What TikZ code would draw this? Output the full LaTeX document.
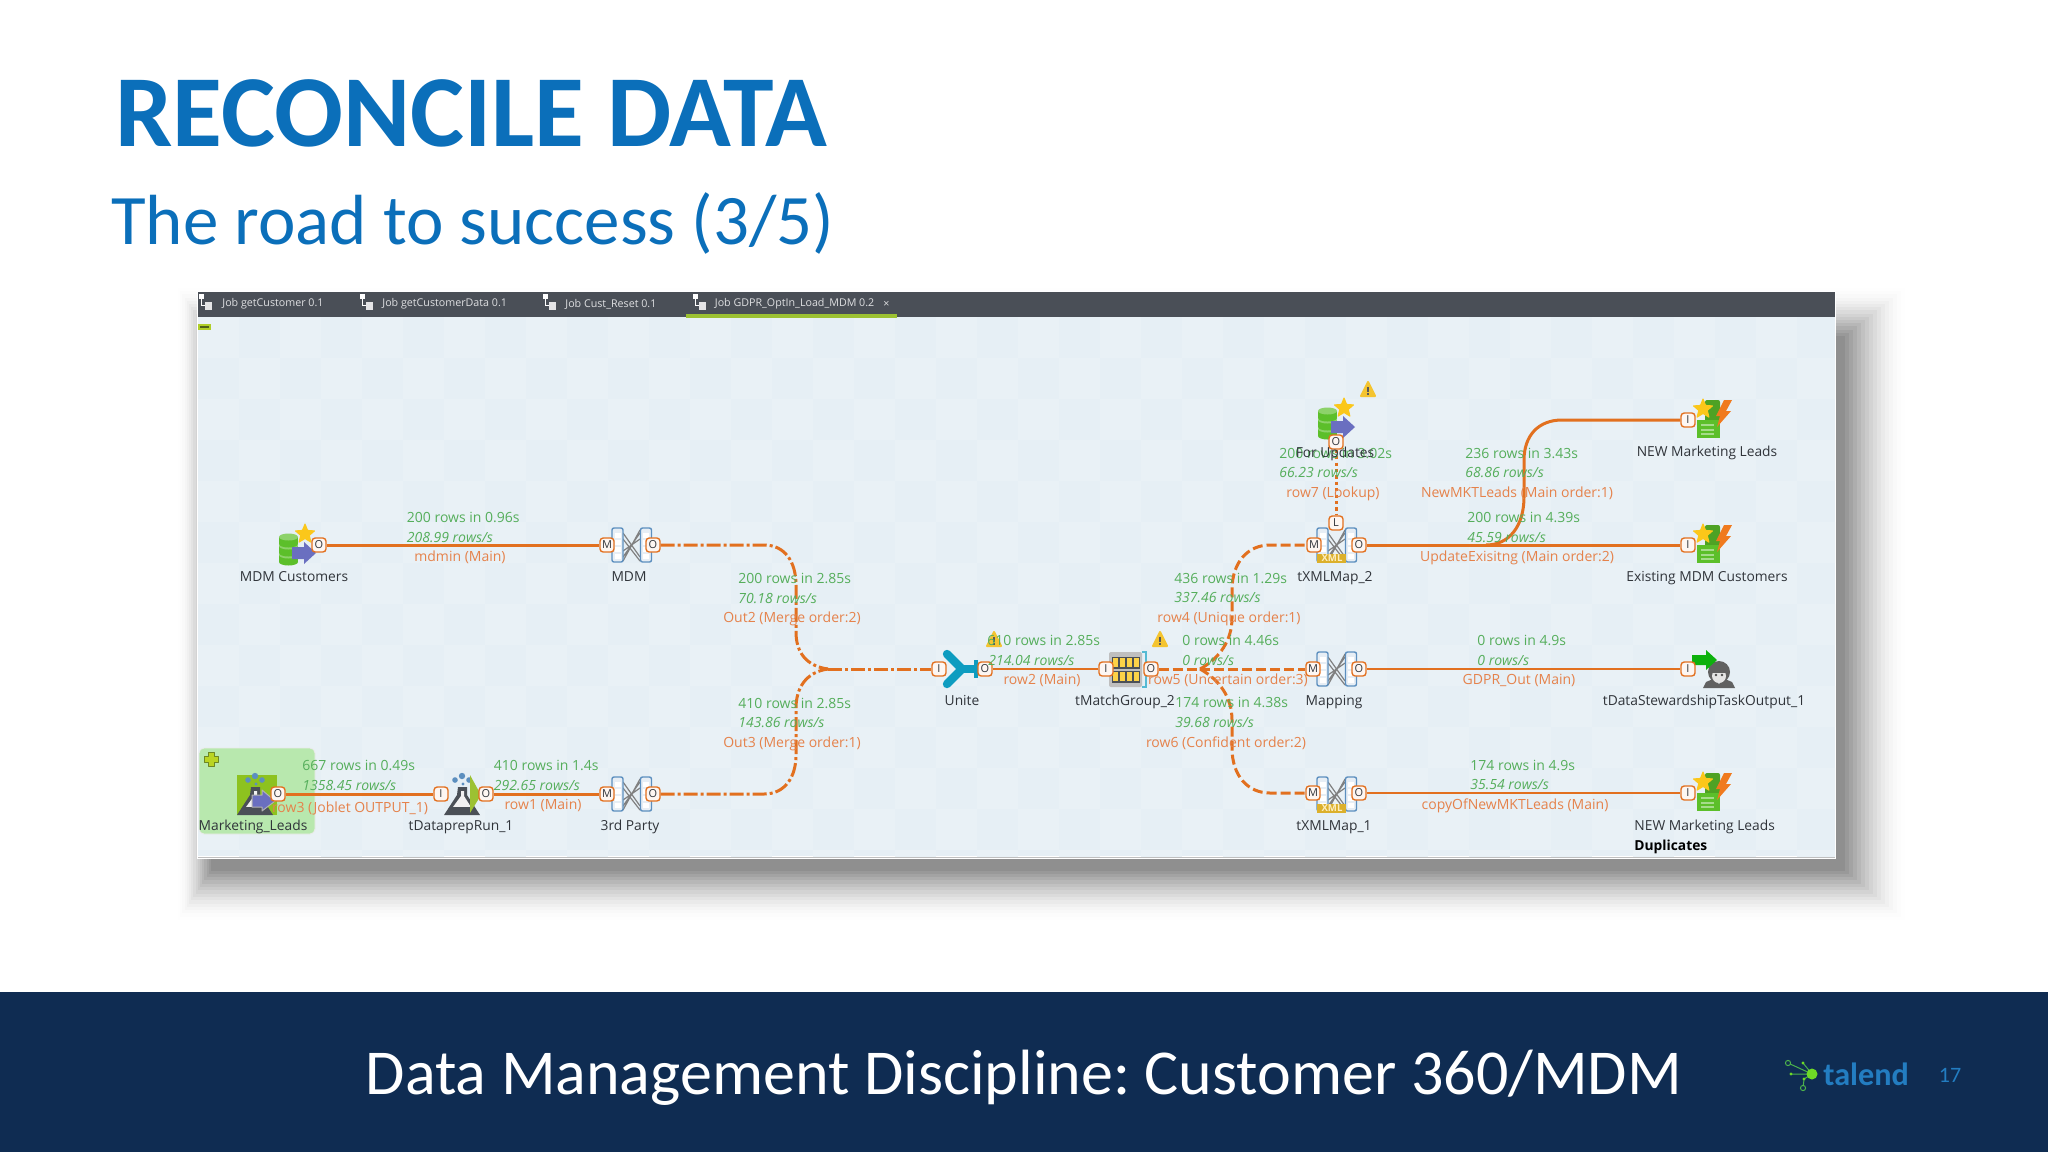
\documentclass[tikz,border=0pt]{standalone}
\usepackage{fontspec}
\setmainfont{Open Sans}
\newfontfamily\slidefont{Carlito}
\definecolor{titleblue}{HTML}{0B6FBA}
\definecolor{navy}{HTML}{0F2C52}
\definecolor{tabbar}{HTML}{4A4F57}
\definecolor{panelA}{HTML}{E6EFF5}
\definecolor{panelB}{HTML}{E9F1F6}
\definecolor{flowc}{HTML}{E2701F}
\definecolor{rowgreen}{HTML}{55AE5B}
\definecolor{roworange}{HTML}{E5824B}
\definecolor{labeldark}{HTML}{30343A}
\definecolor{dbgreen}{HTML}{5CBF2A}
\definecolor{arrowpurple}{HTML}{6A6FC0}
\definecolor{stary}{HTML}{FBC71A}
\definecolor{warny}{HTML}{F4C430}
\definecolor{mapblue}{HTML}{5C8FBF}
\definecolor{boltorange}{HTML}{F07A1E}
\definecolor{teal}{HTML}{0E9CC0}
\definecolor{flaskgrey}{HTML}{4B5057}
\definecolor{lime}{HTML}{9CC132}
\definecolor{limesq}{HTML}{8DC21F}
\definecolor{joblet}{HTML}{B8E8AE}
\tikzset{
  flow/.style={draw=flowc,line width=1.5pt},
  thinflow/.style={draw=flowc,line width=1.3pt},
  dashdotflow/.style={draw=flowc,line width=1.5pt,dash pattern=on 7pt off 1.5pt on 1.5pt off 1.5pt},
  dashflow/.style={draw=flowc,line width=1.5pt,dash pattern=on 5pt off 2pt},
  dotflow/.style={draw=flowc,line width=1.5pt,dash pattern=on 1.6pt off 1.6pt},
  port/.style={draw=flowc,line width=.7pt,fill=white!94!flowc,rounded corners=1.6pt,minimum width=7pt,minimum height=7pt,inner sep=0pt,text=labeldark,font=\fontsize{5.5}{6}\selectfont},
  rowbase/.style={inner sep=0pt,text height=5.4pt,text depth=1.4pt,yshift=-.5pt,font=\fontsize{7}{8}\selectfont},
  stats/.style={rowbase,anchor=west,text=rowgreen},
  rate/.style={rowbase,anchor=west,text=rowgreen,font=\fontsize{7}{8}\selectfont\itshape},
  rowname/.style={rowbase,text=roworange},
  complabel/.style={rowbase,yshift=.5pt,text=labeldark,font=\fontsize{6.9}{8}\selectfont},
  tabtext/.style={inner sep=0pt,anchor=west,text=white!82!tabbar,font=\fontsize{5.35}{6}\selectfont},
  pics/starico/.style={code={
    \fill[stary,draw=stary,line width=.5pt,line join=round] (0,-10)--(2.6,-3.6)--(9.5,-3.1)--(4.3,1.4)--(5.9,8.1)--(0,4.5)--(-5.9,8.1)--(-4.3,1.4)--(-9.5,-3.1)--(-2.6,-3.6)--cycle;
  }},
  pics/warnico/.style={code={
    \fill[warny,draw=warny,line width=1pt,line join=round] (0,-7)--(7,7)--(-7,7)--cycle;
    \fill[black!65] (-1,-2.5) rectangle (1,3);
    \fill[black!65] (-1,4.2) rectangle (1,6);
  }},
  pics/dbico/.style={code={
    \foreach \yy in {10,1,-8}{
      \fill[dbgreen] (-19,\yy) rectangle (0,\yy+7);
      \fill[dbgreen] (-9.5,\yy+7) ellipse (9.5 and 3.5);
      \fill[dbgreen!70!white] (-9.5,\yy) ellipse (9.5 and 3.5);
    }
    \pic at (7,-11) {starico};
    \fill[arrowpurple,line join=round] (-6,2)--(6,2)--(6,-3)--(18,8)--(6,19)--(6,14)--(-6,14)--cycle;
  }},
  pics/mapico/.style={code={
    \draw[black!50,line width=.6pt] (-8,-12)--(9,12) (-8,12)--(9,-12) (-8,-6)--(9,16) (-8,6)--(9,-6) (-8,16)--(9,-15);
    \foreach \cx in {-13.5,15}{
      \filldraw[draw=mapblue,fill=white!85!mapblue,line width=.7pt,rounded corners=1pt] (\cx-5.5,-17) rectangle (\cx+5.5,17);
      \foreach \cy in {-12,-5,2,9}{\fill[white] (\cx-3,\cy) rectangle (\cx+3,\cy+5);}
    }
  }},
  pics/xmlbadge/.style={code={
    \fill[warny!90!black] (-19,9) rectangle (10,18);
    \node[inner sep=0pt,text=white!70!warny,font=\fontsize{4.8}{5}\selectfont\bfseries] (xmltext) at (-4,13.5) {XML};
  }},
  pics/outico/.style={code={
    \fill[dbgreen!85!black,rounded corners=1pt] (-7,-20) rectangle (8,4);
    \fill[dbgreen] (-15,0) rectangle (8,18);
    \foreach \ly in {4,9,13}{\fill[white!45!dbgreen] (-11,\ly) rectangle (2,\ly+1.6);}
    \pic at (-9,-11) {starico};
    \fill[boltorange,line join=round] (12,-20)--(20,-20)--(14,-9)--(19,-9)--(5,7)--(8,-4)--(4,-4)--cycle;
  }},
  pics/flaskico/.style={code={
    \fill[mapblue] (-7,-15) circle (2.8) (0,-19) circle (3.2) (7,-15) circle (2.8) (1,-11) circle (1.6);
    \fill[flaskgrey,line join=round] (-4,-8)--(5,-8)--(5,0)--(18,20)--(-18,20)--(-5,0)--cycle;
    \fill[white!92!flaskgrey] (-1,-4)--(2,-4)--(2,1)--(9,12)--(-9,12)--(-1,1)--cycle;
    \fill[flaskgrey] (-9,12)--(9,12)--(11,16)--(-11,16)--cycle;
  }},
  pics/uniteico/.style={code={
    \draw[teal,line width=4.2pt,line cap=round] (-15,-15)--(0,0) (-15,15)--(0,0);
    \draw[teal,line width=4.2pt] (0,0)--(13,0);
    \fill[teal] (12,-9) rectangle (16,9);
  }},
  pics/matchico/.style={code={
    \fill[black!25,rounded corners=1pt] (-19,-17) rectangle (14,18);
    \foreach \ry in {-11,3}{
      \fill[flaskgrey] (-16,\ry-1) rectangle (12,\ry+11);
      \foreach \rx in {-15,-8,-1,6}{\fill[stary!80!white] (\rx,\ry) rectangle (\rx+5,\ry+9);}
    }
    \draw[teal!70!white,line width=1.4pt] (14,-17)--(18,-17)--(18,18)--(14,18);
  }},
  pics/stewardico/.style={code={
    \fill[black!62] (3,2) circle (11);
    \fill[black!62,line join=round] (-13,18)--(-10,12)--(-3,9)--(3,14)--(9,9)--(16,12)--(19,18)--cycle;
    \fill[white!90!black] (3,6) ellipse (7 and 7);
    \fill[black!62] (-5,-1) rectangle (11,3);
    \fill[black!70] (0,5) circle (1.4) (6,5) circle (1.4);
    \fill[green!68!black!95!white,line join=round] (-24,-15)--(-10,-15)--(-10,-20)--(1,-10)--(-10,0)--(-10,-5)--(-24,-5)--cycle;
  }}
}
\begin{document}
\frenchspacing
\begin{tikzpicture}[x=0.5pt,y=-0.5pt]
\useasboundingbox (0,0) rectangle (2048,1152);
\fill[white] (0,0) rectangle (2048,1152);
% blurred shadow: layers get denser towards the panel
\foreach \si in {0,...,15}{
  \pgfmathsetmacro{\sop}{.004+.004*\si}
  \fill[black,opacity=\sop] ({178+2.2*\si},{288+3.2*\si}) rectangle ({1905-4*\si},{920-3.3*\si});
}
% panel
\fill[white] (197,291) rectangle (1836,859);
\fill[panelA] (198,317) rectangle (1835,856);
\begin{scope}
\clip (198,317) rectangle (1835,856);
\foreach \ci in {0,...,39}{
  \foreach \cj in {0,...,13}{
    \pgfmathparse{int(mod(\ci+\cj,2))}
    \ifnum\pgfmathresult=0
      \fill[panelB] ({198+41*\ci},{317+41*\cj}) rectangle ({198+41*\ci+41},{317+41*\cj+41});
    \fi
  }
}
\end{scope}
\draw[black!25,line width=.5pt] (198,857) -- (1835,857);
% tab bar
\fill[tabbar] (198,292) rectangle (1835,317);
\fill[lime] (686,314) rectangle (897,317.5);
\foreach \tx in {203,364,547,697}{
  \fill[white] (\tx-4,294) rectangle (\tx+1,299);
  \draw[white,line width=.5pt] (\tx-2,299) -- (\tx-2,305) -- (\tx+2,305);
  \fill[white!85!tabbar] (\tx+2,302) rectangle (\tx+9,310);
}
\node[tabtext] (tabA) at (222,304) {Job getCustomer 0.1};
\node[tabtext] (tabB) at (382,304) {Job getCustomerData 0.1};
\node[tabtext] (tabC) at (565,304) {Job Cust\_Reset 0.1};
\node[tabtext] (tabD) at (714.5,304) {Job GDPR\_OptIn\_Load\_MDM 0.2};
\node[tabtext] (tabX) at (883,304) {×};
% small marker
\fill[lime!80!yellow] (198,324) rectangle (211,330);
\fill[black!50!lime] (200,326) rectangle (209,328);
% joblet box
\filldraw[draw=black!8,fill=joblet,rounded corners=2.5pt,line width=.4pt] (199,748) rectangle (315,834);
\filldraw[draw=lime!70!black,fill=lime!70!yellow,line width=.5pt,line join=round] (208,752) -- (214,752) -- (214,756) -- (218,756) -- (218,762) -- (214,762) -- (214,766) -- (208,766) -- (208,762) -- (204,762) -- (204,756) -- (208,756) -- cycle;
% icons
\pic at (298,545) {dbico};
\pic at (1337,419) {dbico};
\pic at (631,545) {mapico};
\pic at (631,794) {mapico};
\pic at (1336,669) {mapico};
\pic at (1336,794) {mapico};
\pic at (1336,795) {xmlbadge};
\pic at (1336,545) {mapico};
\pic at (1336,545) {xmlbadge};
\pic at (1712,420) {outico};
\pic at (1712,545) {outico};
\pic at (1712,793) {outico};
\pic at (1716,670) {stewardico};
\pic at (962,669) {uniteico};
\pic at (1128,669) {matchico};
% tDataprepRun icon
\pic at (462,795) {flaskico};
\fill[lime] (470,775) -- (481,795) -- (470,813) -- cycle;
% Marketing_Leads icon
\fill[limesq] (237,775) rectangle (277,815);
\pic at (255,795) {flaskico};
\filldraw[draw=black!30,fill=arrowpurple,line width=.5pt,line join=round] (252,795)--(262,795)--(262,790)--(275,801)--(262,811)--(262,807)--(252,807)--cycle;
% ports
\node[port] (mdmcO) at (319,545) {O};
\node[port] (mdmM) at (607,545) {M};
\node[port] (mdmO) at (653,545) {O};
\node[port] (mktO) at (278,794) {O};
\node[port] (prepI) at (441,794) {I};
\node[port] (prepO) at (486,794) {O};
\node[port] (thirdM) at (607,794) {M};
\node[port] (thirdO) at (653,794) {O};
\node[port] (uniteI) at (939,669) {I};
\node[port] (uniteO) at (985,669) {O};
\node[port] (matchI) at (1106,669) {I};
\node[port] (matchO) at (1151,669) {O};
\node[port] (mapM) at (1313,669) {M};
\node[port] (mapO) at (1359,669) {O};
\node[port] (xoneM) at (1313,793) {M};
\node[port] (xoneO) at (1359,793) {O};
\node[port] (xtwoM) at (1314,545) {M};
\node[port] (xtwoO) at (1359,545) {O};
\node[port] (xtwoL) at (1336,523) {L};
\node[port] (updO) at (1336,442) {O};
\node[port] (newI) at (1688,420) {I};
\node[port] (existI) at (1688,545) {I};
\node[port] (stewI) at (1688,669) {I};
\node[port] (dupI) at (1688,793) {I};
\coordinate (mergeJ) at (828,669);
\coordinate (splitJ) at (1200,669);
\coordinate (forkJ) at (1486,545);
% connectors
\draw[flow] (mdmcO) -- (mdmM);
\draw[flow] (mktO) -- (prepI);
\draw[flow] (prepO) -- (thirdM);
\draw[dashdotflow] (mdmO) -- (764,545) .. controls (785,545) and (796,562) .. (796,585) -- (796,632) .. controls (796,652) and (806,666) .. (mergeJ);
\draw[dashdotflow] (thirdO) -- (764,794) .. controls (785,794) and (796,777) .. (796,755) -- (796,708) .. controls (796,688) and (806,672) .. (mergeJ);
\draw[dashdotflow] (mergeJ) -- (uniteI);
\draw[thinflow] (uniteO) -- (matchI);
\draw[dashflow] (matchO) -- (splitJ);
\draw[dashflow] (splitJ) -- (mapM);
\draw[dashflow] (splitJ) .. controls (1220,658) and (1232,640) .. (1232,618) -- (1232,590) .. controls (1232,562) and (1248,545) .. (1270,545) -- (xtwoM);
\draw[dashflow] (splitJ) .. controls (1220,680) and (1232,698) .. (1232,720) -- (1232,748) .. controls (1232,776) and (1248,793) .. (1270,793) -- (xoneM);
\draw[dotflow] (updO) -- (xtwoL);
\draw[flow] (xtwoO) -- (existI);
\draw[flow] (forkJ) .. controls (1510,545) and (1524,525) .. (1524,497) -- (1524,460) .. controls (1524,436) and (1538,420) .. (1562,420) -- (newI);
\draw[thinflow] (mapO) -- (stewI);
\draw[thinflow] (xoneO) -- (dupI);
% warnings
\pic at (1368,389) {warnico};
\pic at (1160,639) {warnico};
\pic at (994,639) {warnico};
% component labels
\node[complabel] (lblMdmc) at (294,577) {MDM Customers};
\node[complabel] (lblMdm) at (629,577) {MDM};
\node[complabel] (lblMkt) at (253,826) {Marketing\_Leads};
\node[complabel] (lblPrep) at (461,826) {tDataprepRun\_1};
\node[complabel] (lblThird) at (630,826) {3rd Party};
\node[complabel] (lblUnite) at (962,701) {Unite};
\node[complabel] (lblMatch) at (1125,701) {tMatchGroup\_2};
\node[complabel] (lblMap) at (1334,701) {Mapping};
\node[complabel] (lblXone) at (1334,826) {tXMLMap\_1};
\node[complabel] (lblXtwo) at (1335,577) {tXMLMap\_2};
\node[complabel] (lblNew) at (1707,452) {NEW Marketing Leads};
\node[complabel] (lblExist) at (1707,577) {Existing MDM Customers};
\node[complabel] (lblSteward) at (1704,701) {tDataStewardshipTaskOutput\_1};
\node[complabel,anchor=west] (lblDup) at (1634,826) {NEW Marketing Leads};
\node[complabel,anchor=west,font=\fontsize{6.9}{8}\selectfont\bfseries,text=black] (lblDupB) at (1634,846) {Duplicates};
% row stats
\node[stats] (sA) at (406.5,517) {200 rows in 0.96s};
\node[rate] (rA) at (406.5,537) {208.99 rows/s};
\node[rowname] (nA) at (460,556) {mdmin (Main)};
\node[stats] (sB) at (302,765) {667 rows in 0.49s};
\node[rate] (rB) at (302,785) {1358.45 rows/s};
\node[rowname] (nB) at (350,807) {row3 (Joblet OUTPUT\_1)};
\node[stats] (sC) at (493.5,765) {410 rows in 1.4s};
\node[rate] (rC) at (493.5,785) {292.65 rows/s};
\node[rowname] (nC) at (543,804) {row1 (Main)};
\node[stats] (sD) at (738,578) {200 rows in 2.85s};
\node[rate] (rD) at (738,598) {70.18 rows/s};
\node[rowname] (nD) at (792,617) {Out2 (Merge order:2)};
\node[stats] (sE) at (738,703) {410 rows in 2.85s};
\node[rate] (rE) at (738,722) {143.86 rows/s};
\node[rowname] (nE) at (792,742) {Out3 (Merge order:1)};
\node[stats] (sF) at (987,640) {610 rows in 2.85s};
\node[rate] (rF) at (988,660) {214.04 rows/s};
\node[rowname] (nF) at (1042,679) {row2 (Main)};
\node[stats] (sG) at (1174,578) {436 rows in 1.29s};
\node[rate] (rG) at (1174,597) {337.46 rows/s};
\node[rowname] (nG) at (1229,617) {row4 (Unique order:1)};
\node[stats] (sH) at (1182,640) {0 rows in 4.46s};
\node[rate] (rH) at (1182,660) {0 rows/s};
\node[rowname] (nH) at (1228,679) {row5 (Uncertain order:3)};
\node[stats] (sI) at (1175,702) {174 rows in 4.38s};
\node[rate] (rI) at (1175,722) {39.68 rows/s};
\node[rowname] (nI) at (1226,742) {row6 (Confident order:2)};
\node[stats] (sJ) at (1279,453) {200 rows in 3.02s};
\node[rate] (rJ) at (1279,472) {66.23 rows/s};
\node[rowname] (nJ) at (1333,492) {row7 (Lookup)};
\node[complabel] (lblUpd) at (1335,453) {For Updates};
\node[stats] (sK) at (1465,453) {236 rows in 3.43s};
\node[rate] (rK) at (1465,472) {68.86 rows/s};
\node[rowname] (nK) at (1517,492) {NewMKTLeads (Main order:1)};
\node[stats] (sL) at (1467,517) {200 rows in 4.39s};
\node[rate] (rL) at (1467,537) {45.59 rows/s};
\node[rowname] (nL) at (1517,556) {UpdateExisitng (Main order:2)};
\node[stats] (sM) at (1477,640) {0 rows in 4.9s};
\node[rate] (rM) at (1477,660) {0 rows/s};
\node[rowname] (nM) at (1519,679) {GDPR\_Out (Main)};
\node[stats] (sN) at (1470,765) {174 rows in 4.9s};
\node[rate] (rN) at (1470,784) {35.54 rows/s};
\node[rowname] (nN) at (1515,804) {copyOfNewMKTLeads (Main)};
% title
\node[inner sep=0pt,anchor=base west,text=titleblue,font=\slidefont\fontsize{51}{60}\selectfont\bfseries] (title) at (115,146) {RECONCILE DATA};
\node[inner sep=0pt,anchor=base west,text=titleblue,font=\slidefont\fontsize{35.5}{40}\selectfont] (subtitle) at (111,244) {The road to success (3/5)};
% footer
\fill[navy] (0,992) rectangle (2048,1152);
\node[inner sep=0pt,anchor=base,text=white,font=\slidefont\fontsize{32}{38}\selectfont] (footer) at (1024,1094) {Data Management Discipline: Customer 360/MDM};
% logo
\draw[green!40!gray,line width=.5pt] (1812,1074) -- (1788,1063) (1812,1074) -- (1803,1063) (1812,1074) -- (1791,1074) (1812,1074) -- (1804,1079) -- (1803,1088);
\fill[green!60!yellow!70!gray] (1812,1074) circle (5.5);
\draw[green!40!gray,line width=.5pt,fill=navy] (1788,1063) circle (2.6) (1803,1088) circle (2.6);
\fill[green!60!yellow!70!gray] (1803,1063) circle (1.6) (1791,1074) circle (1.6) (1804,1079) circle (1.6);
\node[inner sep=0pt,anchor=base west,text=titleblue!90!white,font=\slidefont\fontsize{16.1}{20}\selectfont\bfseries] (talend) at (1823,1085) {talend};
\node[inner sep=0pt,text=titleblue!90!white,font=\slidefont\fontsize{11}{12}\selectfont] (pagenum) at (1950,1075) {17};
\end{tikzpicture}
\end{document}
